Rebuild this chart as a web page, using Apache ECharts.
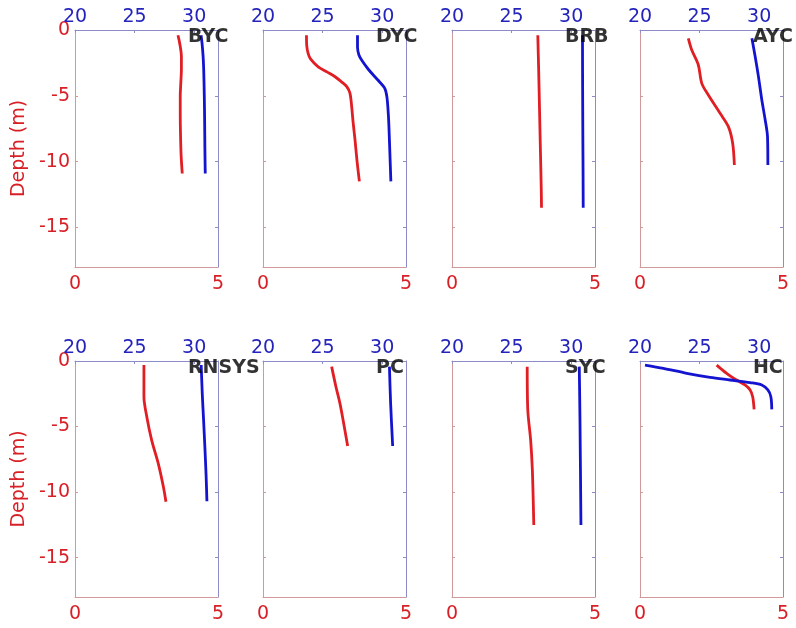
<!DOCTYPE html>
<html>
<head>
<meta charset="utf-8">
<script src="https://cdn.jsdelivr.net/npm/echarts@6/dist/echarts.min.js"></script>
<style>html,body{margin:0;padding:0;background:#fff}#c{width:796px;height:628px}</style>
</head>
<body>
<div id="c"></div>
<script>
// Station names (panel order: row 1 then row 2)
const stations = ['BYC', 'DYC', 'BRB', 'AYC', 'RNSYS', 'PC', 'SYC', 'HC'];

// Red profiles: [bottom-axis value (0-5), depth (m)]
const bycRed = [[3.60,-0.4],[3.66,-1.0],[3.72,-2.0],[3.72,-3.0],[3.70,-4.0],[3.68,-5.0],[3.68,-6.5],[3.69,-8.0],[3.71,-9.5],[3.75,-10.9]];
const dycRed = [[1.52,-0.4],[1.53,-1.2],[1.58,-1.8],[1.66,-2.2],[1.93,-2.8],[2.25,-3.2],[2.52,-3.55],[2.78,-4.0],[2.93,-4.3],[3.04,-4.8],[3.10,-5.8],[3.15,-7.0],[3.22,-8.4],[3.29,-10.0],[3.37,-11.5]];
const brbRed = [[3.00,-0.4],[3.03,-3.0],[3.06,-6.0],[3.09,-9.0],[3.12,-12.0],[3.13,-13.5]];
const aycRed = [[1.69,-0.63],[1.81,-1.52],[2.04,-2.66],[2.16,-4.05],[2.39,-4.94],[2.80,-6.33],[3.09,-7.34],[3.24,-8.6],[3.30,-10.25]];
const rnsysRed = [[2.41,-0.31],[2.41,-2.72],[2.51,-4.25],[2.68,-6.03],[2.91,-7.81],[3.09,-9.59],[3.18,-10.73]];
const pcRed = [[2.40,-0.43],[2.55,-1.96],[2.69,-3.23],[2.80,-4.5],[2.96,-6.48]];
const sycRed = [[2.63,-0.43],[2.65,-3.74],[2.75,-6.03],[2.81,-8.32],[2.86,-12.51]];
const hcRed = [[2.68,-0.31],[3.03,-0.94],[3.38,-1.45],[3.67,-1.83],[3.85,-2.21],[3.94,-2.72],[3.99,-3.69]];

// Blue profiles: [top-axis value (20-32), depth (m)]
const bycBlue = [[30.58,-0.4],[30.66,-1.0],[30.75,-2.0],[30.80,-3.0],[30.85,-5.0],[30.88,-7.0],[30.90,-9.0],[30.93,-10.9]];
const dycBlue = [[27.93,-0.4],[27.93,-1.3],[28.05,-1.9],[28.29,-2.3],[28.85,-3.0],[29.64,-3.8],[30.20,-4.4],[30.40,-5.1],[30.53,-6.6],[30.61,-8.4],[30.73,-11.5]];
const brbBlue = [[30.95,-0.4],[30.96,-4.0],[30.98,-8.0],[31.00,-11.0],[31.01,-13.5]];
const aycBlue = [[29.39,-0.63],[29.66,-2.0],[29.94,-3.54],[30.22,-5.3],[30.50,-6.8],[30.70,-8.1],[30.73,-10.25]];
const rnsysBlue = [[30.59,-0.3],[30.68,-2.5],[30.79,-4.5],[30.90,-6.6],[31.00,-8.7],[31.07,-10.7]];
const pcBlue = [[30.61,-0.43],[30.71,-3.23],[30.88,-6.48]];
const sycBlue = [[30.68,-0.43],[30.74,-4.5],[30.82,-12.51]];
const hcBlue = [[20.42,-0.31],[21.96,-0.56],[23.92,-0.94],[25.88,-1.25],[27.56,-1.45],[29.24,-1.65],[30.22,-1.83],[30.73,-2.21],[30.98,-2.72],[31.06,-3.69]];

// Tick labels
const bottomTicks = [0, 5];
const topTicks = [20, 25, 30];
const depthTicks = [0, -5, -10, -15];
const depthName = 'Depth (m)';

const redProfiles = [bycRed, dycRed, brbRed, aycRed, rnsysRed, pcRed, sycRed, hcRed];
const blueProfiles = [bycBlue, dycBlue, brbBlue, aycBlue, rnsysBlue, pcBlue, sycBlue, hcBlue];

const RED = '#e01e24';
const BLUE = '#1414d0';
const RED_LBL = '#d81f26';
const BLUE_LBL = '#2424bc';
const RED_AX = '#d09a9a';
const BLUE_AX = '#8c8cc8';
const FONT = 'DejaVu Sans';
const FS = 19;

const lefts = [75, 263, 452, 640];
const tops = [30, 361];
const heights = [237, 236];

const grid = [], xAxis = [], yAxis = [], series = [];
for (let i = 0; i < 8; i++) {
  const col = i % 4, row = Math.floor(i / 4);
  grid.push({left: lefts[col], top: tops[row], width: 143, height: heights[row], containLabel: false});
  // bottom (red) axis
  xAxis.push({
    gridIndex: i, type: 'value', min: 0, max: 5, position: 'bottom',
    axisLine: {onZero: false, lineStyle: {color: RED_AX, width: 1}},
    axisTick: {show: false},
    axisLabel: {customValues: bottomTicks, color: RED_LBL, fontSize: FS, fontFamily: FONT, margin: 8},
    splitLine: {show: false}
  });
  // top (blue) axis
  xAxis.push({
    gridIndex: i, type: 'value', min: 20, max: 32, position: 'top',
    axisLine: {onZero: false, lineStyle: {color: BLUE_AX, width: 1}},
    axisTick: {show: true, inside: true, length: 3, customValues: topTicks, lineStyle: {color: BLUE_AX}},
    axisLabel: {customValues: topTicks, color: BLUE_LBL, fontSize: FS, fontFamily: FONT, margin: 3},
    splitLine: {show: false}
  });
  // left (red) depth axis
  yAxis.push({
    gridIndex: i, type: 'value', min: -18, max: 0, position: 'left',
    name: col === 0 ? depthName : '',
    nameLocation: 'middle', nameGap: 46, nameRotate: 90,
    nameTextStyle: {color: RED_LBL, fontSize: FS, fontFamily: FONT},
    axisLine: {onZero: false, lineStyle: {color: RED_AX, width: 1}},
    axisTick: {show: true, inside: true, length: 3, customValues: [-5, -10, -15], lineStyle: {color: RED_AX}},
    axisLabel: {show: col === 0, customValues: depthTicks, color: RED_LBL, fontSize: FS, fontFamily: FONT, margin: 5},
    splitLine: {show: false}
  });
  // right (blue) frame axis
  yAxis.push({
    gridIndex: i, type: 'value', min: -18, max: 0, position: 'right',
    axisLine: {onZero: false, lineStyle: {color: BLUE_AX, width: 1}},
    axisTick: {show: true, inside: true, length: 3, customValues: [-5, -10, -15], lineStyle: {color: BLUE_AX}},
    axisLabel: {show: false},
    splitLine: {show: false}
  });
  series.push({
    type: 'line', xAxisIndex: 2 * i, yAxisIndex: 2 * i, data: redProfiles[i],
    showSymbol: false, symbol: 'none', smooth: 0.3, lineStyle: {color: RED, width: 2.8}, silent: true, z: 2
  });
  series.push({
    type: 'line', xAxisIndex: 2 * i + 1, yAxisIndex: 2 * i, data: blueProfiles[i],
    showSymbol: false, symbol: 'none', smooth: 0.3, lineStyle: {color: BLUE, width: 2.8}, silent: true, z: 3
  });
  series.push({
    type: 'scatter', xAxisIndex: 2 * i, yAxisIndex: 2 * i, data: [[3.95, -0.55]],
    symbolSize: 0, clip: false, silent: true, z: 10,
    label: {show: true, position: 'right', distance: 0, formatter: stations[i],
      color: '#000000', textBorderWidth: 0, fontSize: 19, fontWeight: 'bold', fontFamily: FONT, align: 'left', verticalAlign: 'middle'}
  });
}

const chart = echarts.init(document.getElementById('c'), null, {renderer: 'canvas'});
chart.setOption({animation: false, backgroundColor: '#fff', grid, xAxis, yAxis, series});
</script>
</body>
</html>
